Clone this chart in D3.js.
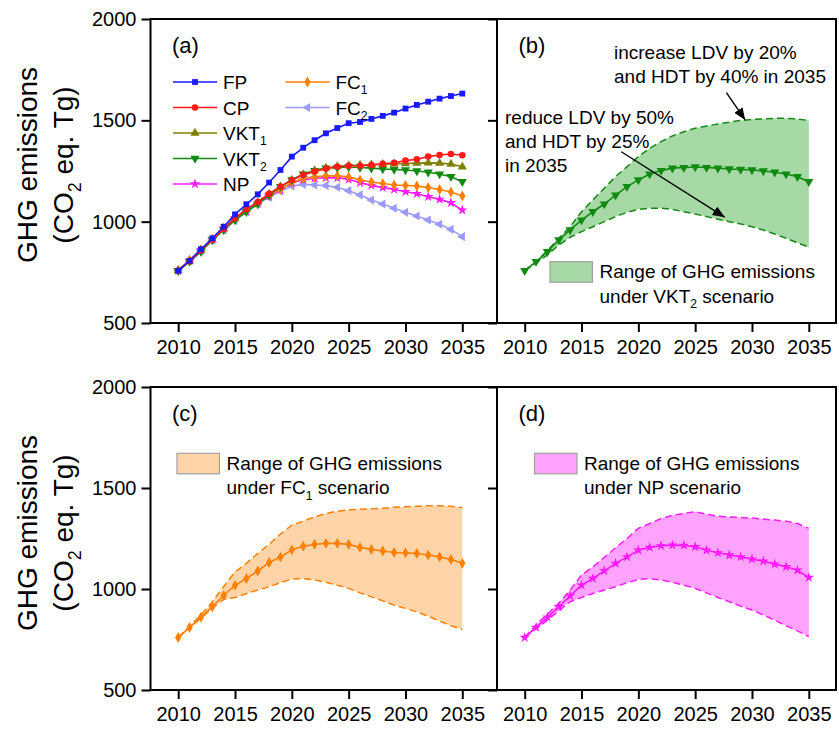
<!DOCTYPE html>
<html>
<head>
<meta charset="utf-8">
<script src="https://cdn.jsdelivr.net/npm/d3@7"></script>
<style>
  body { margin: 0; background: #fff; }
  text { font-family: "Liberation Sans", Arial, sans-serif; fill: #000; white-space: pre; }
</style>
</head>
<body>
<svg id="chart" width="839" height="729"></svg>
<script>
// ---- data -------------------------------------------------------------
const years = [2010, 2011, 2012, 2013, 2014, 2015, 2016, 2017, 2018, 2019, 2020, 2021, 2022,
               2023, 2024, 2025, 2026, 2027, 2028, 2029, 2030, 2031, 2032, 2033, 2034, 2035];
const xTickValues = [2010, 2015, 2020, 2025, 2030, 2035];
const yTickValues = [500, 1000, 1500, 2000];

// GHG emissions by scenario (CO2 eq. Tg)
const FP   = [758, 807, 864, 918, 975, 1036, 1086, 1135, 1193, 1255, 1321, 1365, 1402,
              1436, 1462, 1486, 1492, 1507, 1522, 1538, 1558, 1576, 1592, 1607, 1620, 1632];
const CP   = [758, 805, 858, 912, 964, 1017, 1061, 1097, 1137, 1173, 1206, 1231, 1247,
              1262, 1271, 1276, 1276, 1280, 1285, 1291, 1301, 1308, 1321, 1329, 1334, 1328];
const VKT1 = [758, 805, 858, 912, 964, 1017, 1061, 1097, 1137, 1173, 1206, 1233, 1252,
              1265, 1272, 1277, 1279, 1281, 1283, 1285, 1287, 1289, 1290, 1289, 1284, 1271];
const VKT2 = [758, 803, 852, 910, 959, 1008, 1049, 1087, 1131, 1173, 1206, 1235, 1252,
              1264, 1267, 1270, 1267, 1264, 1260, 1258, 1255, 1250, 1244, 1235, 1222, 1197];
const NP   = [760, 810, 861, 912, 966, 1019, 1052, 1090, 1127, 1159, 1192, 1206, 1214,
              1217, 1216, 1209, 1192, 1179, 1168, 1159, 1148, 1138, 1123, 1110, 1093, 1057];
const FC1  = [760, 810, 860, 912, 968, 1018, 1052, 1089, 1131, 1158, 1194, 1212, 1221,
              1226, 1226, 1221, 1206, 1196, 1188, 1181, 1179, 1176, 1168, 1159, 1146, 1127];
const FC2  = [758, 805, 856, 908, 958, 1006, 1050, 1090, 1120, 1150, 1176, 1184, 1181,
              1178, 1170, 1153, 1132, 1107, 1087, 1066, 1046, 1028, 1008, 987, 962, 926];

// uncertainty ranges
const VKT2_high = [758, 803, 857, 918, 975, 1049, 1107, 1165, 1222, 1271, 1321, 1362, 1395,
                   1423, 1444, 1461, 1472, 1482, 1491, 1499, 1505, 1507, 1510, 1510, 1507, 1499];
const VKT2_low  = [758, 795, 836, 885, 923, 951, 975, 1000, 1025, 1046, 1061, 1066, 1066,
                   1061, 1049, 1038, 1025, 1012, 1000, 989, 975, 959, 939, 918, 896, 874];
const FC1_high  = [760, 814, 871, 937, 1011, 1085, 1127, 1176, 1221, 1272, 1316, 1336, 1357,
                   1374, 1385, 1392, 1395, 1397, 1400, 1405, 1407, 1410, 1412, 1412, 1410, 1403];
const FC1_low   = [760, 808, 855, 904, 949, 958, 978, 995, 1011, 1031, 1049, 1051, 1045,
                   1033, 1019, 1003, 981, 961, 942, 920, 904, 887, 866, 841, 818, 800];
const NP_high   = [760, 823, 876, 929, 995, 1069, 1110, 1156, 1204, 1250, 1300, 1324, 1349,
                   1365, 1374, 1382, 1370, 1360, 1357, 1354, 1351, 1346, 1341, 1336, 1324, 1300];
const NP_low    = [760, 803, 846, 892, 937, 958, 978, 995, 1011, 1031, 1047, 1051, 1045,
                   1033, 1019, 1003, 981, 958, 937, 915, 896, 871, 846, 818, 793, 764];

// ---- styling ----------------------------------------------------------
const FONT_TICK = 20, FONT_LEG = 19, FONT_AXIS = 28;
const series = {
  FP:   { values: FP,   color: "#1a1aff", symbol: d3.symbolSquare,   size: 34, rot: 0 },
  CP:   { values: CP,   color: "#ff1a1a", symbol: d3.symbolCircle,   size: 34, rot: 0 },
  VKT1: { values: VKT1, color: "#808000", symbol: d3.symbolTriangle, size: 36, rot: 0 },
  VKT2: { values: VKT2, color: "#118a11", symbol: d3.symbolTriangle, size: 36, rot: 180 },
  NP:   { values: NP,   color: "#ff1aff", symbol: d3.symbolStar,     size: 34, rot: 0 },
  FC1:  { values: FC1,  color: "#ff8000", symbol: d3.symbolDiamond,  size: 34, rot: 0 },
  FC2:  { values: FC2,  color: "#9b9bff", symbol: d3.symbolTriangle, size: 36, rot: -90 }
};

const svg = d3.select("#chart");

const panels = {
  a: { left: 150.5, top: 19,  w: 346.5, h: 304, yLabels: true },
  b: { left: 497,   top: 19,  w: 339,   h: 304, yLabels: false },
  c: { left: 150.5, top: 387, w: 346.5, h: 303, yLabels: true },
  d: { left: 497,   top: 387, w: 339,   h: 303, yLabels: false }
};

// text with optional subscripts: parts are strings or {sub: "..."}
function richText(g, x, y, parts, size, anchor) {
  const t = g.append("text").attr("x", x).attr("y", y)
    .attr("font-size", size).attr("text-anchor", anchor || "start");
  let inSub = false;
  parts.forEach(p => {
    const isSub = typeof p !== "string";
    const ts = t.append("tspan").text(isSub ? p.sub : p);
    if (isSub) {
      ts.attr("font-size", size * 0.64);
      if (!inSub) ts.attr("dy", size * 0.28);
      inSub = true;
    } else if (inSub) {
      ts.attr("dy", -size * 0.28);
      inSub = false;
    }
  });
  return t;
}

function setupPanel(key) {
  const p = panels[key];
  const g = svg.append("g").attr("transform", `translate(${p.left},${p.top})`);
  const x = d3.scaleLinear().domain([2010, 2035]).range([27.7, 311.8]);
  const y = d3.scaleLinear().domain([500, 2000]).range([p.h, 0]);
  return { g, x, y, p };
}

function finishPanel(P) {
  const { g, x, y, p } = P;
  const yAxis = d3.axisLeft(y).tickValues(yTickValues).tickSize(9).tickPadding(5).tickSizeOuter(0)
    .tickFormat(p.yLabels ? d3.format("d") : () => "");
  const xAxis = d3.axisBottom(x).tickValues(xTickValues).tickSize(9).tickPadding(8).tickSizeOuter(0)
    .tickFormat(d3.format("d"));
  const ya = g.append("g").call(yAxis);
  const xa = g.append("g").attr("transform", `translate(0,${p.h})`).call(xAxis);
  [ya, xa].forEach(a => {
    a.select(".domain").remove();
    a.selectAll(".tick line").attr("stroke", "#000").attr("stroke-width", 2);
    a.selectAll(".tick text").attr("font-size", FONT_TICK)
      .style("font-family", '"Liberation Sans", Arial, sans-serif').attr("fill", "#000");
  });
  g.append("rect").attr("x", 0).attr("y", 0).attr("width", p.w).attr("height", p.h)
    .attr("fill", "none").attr("stroke", "#000").attr("stroke-width", 2);
}

function drawSeries(P, key) {
  const { g, x, y } = P;
  const s = series[key];
  const line = d3.line().x((d, i) => x(years[i])).y(d => y(d));
  g.append("path").datum(s.values).attr("d", line)
    .attr("fill", "none").attr("stroke", s.color).attr("stroke-width", 1.6);
  const sym = d3.symbol().type(s.symbol).size(s.size);
  g.append("g").selectAll("path").data(s.values).join("path")
    .attr("d", sym)
    .attr("transform", (d, i) => `translate(${x(years[i])},${y(d)}) rotate(${s.rot})`)
    .attr("fill", s.color);
}

function drawBand(P, high, low, color, fill) {
  const { g, x, y } = P;
  const area = d3.area().x((d, i) => x(years[i])).y0((d, i) => y(low[i])).y1(d => y(d));
  g.append("path").datum(high).attr("d", area).attr("fill", fill).attr("stroke", "none");
  const line = d3.line().x((d, i) => x(years[i])).y(d => y(d));
  [high, low].forEach(b => {
    g.append("path").datum(b).attr("d", line).attr("fill", "none")
      .attr("stroke", color).attr("stroke-width", 1.5).attr("stroke-dasharray", "7,4");
  });
}

function panelTag(P, label) {
  P.g.append("text").attr("x", 21.5).attr("y", 34).attr("font-size", 22).text(label);
}

function legendBox(P, bx, by, fill, lines) {
  const { g } = P;
  g.append("rect").attr("x", bx).attr("y", by).attr("width", 42.5).attr("height", 20.5)
    .attr("fill", fill).attr("stroke", "#a0a0a0").attr("stroke-width", 1.2);
  lines.forEach((parts, i) => richText(g, bx + 49.5, by + 16.5 + i * 24.4, parts, FONT_LEG));
}

// ---- panel (a): all scenarios -------------------------------------------
const A = setupPanel("a");
["FC2", "NP", "FC1", "VKT2", "VKT1", "CP", "FP"].forEach(k => drawSeries(A, k));
panelTag(A, "(a)");
const legendItems = [
  { key: "FP",   col: 0, row: 0, parts: ["FP"] },
  { key: "CP",   col: 0, row: 1, parts: ["CP"] },
  { key: "VKT1", col: 0, row: 2, parts: ["VKT", { sub: "1" }] },
  { key: "VKT2", col: 0, row: 3, parts: ["VKT", { sub: "2" }] },
  { key: "NP",   col: 0, row: 4, parts: ["NP"] },
  { key: "FC1",  col: 1, row: 0, parts: ["FC", { sub: "1" }] },
  { key: "FC2",  col: 1, row: 1, parts: ["FC", { sub: "2" }] }
];
legendItems.forEach(it => {
  const s = series[it.key];
  const x0 = it.col === 0 ? 22.5 : 135;
  const yy = 63 + it.row * 25.5;
  A.g.append("line").attr("x1", x0).attr("x2", x0 + 44).attr("y1", yy).attr("y2", yy)
    .attr("stroke", s.color).attr("stroke-width", 1.6);
  A.g.append("path").attr("d", d3.symbol().type(s.symbol).size(s.size)())
    .attr("transform", `translate(${x0 + 22},${yy}) rotate(${s.rot})`).attr("fill", s.color);
  richText(A.g, x0 + 50, yy + 7, it.parts, FONT_LEG);
});
finishPanel(A);

// ---- panel (b): VKT2 range ---------------------------------------------
const B = setupPanel("b");
drawBand(B, VKT2_high, VKT2_low, "#118a11", "#a6d9a6");
drawSeries(B, "VKT2");
panelTag(B, "(b)");
richText(B.g, 117, 40, ["increase LDV by 20%"], FONT_LEG);
richText(B.g, 117, 64.4, ["and HDT by 40% in 2035"], FONT_LEG);
richText(B.g, 8, 104.5, ["reduce LDV by 50%"], FONT_LEG);
richText(B.g, 8, 128.9, ["and HDT by 25%"], FONT_LEG);
richText(B.g, 8, 153.3, ["in 2035"], FONT_LEG);
svg.append("defs").append("marker").attr("id", "arrowHead")
  .attr("viewBox", "0 0 12 10").attr("refX", 12).attr("refY", 5)
  .attr("markerWidth", 12).attr("markerHeight", 10).attr("markerUnits", "userSpaceOnUse")
  .attr("orient", "auto")
  .append("path").attr("d", "M0,0 L12,5 L0,10 Z").attr("fill", "#000");
const arrows = [
  { from: [2027.75, 1637], to: [2029.4, 1502] },
  { from: [2018.5, 1345], to: [2027.6, 1022] }
];
arrows.forEach(a => {
  B.g.append("line")
    .attr("x1", B.x(a.from[0])).attr("y1", B.y(a.from[1]))
    .attr("x2", B.x(a.to[0])).attr("y2", B.y(a.to[1]))
    .attr("stroke", "#000").attr("stroke-width", 1.4).attr("marker-end", "url(#arrowHead)");
});
legendBox(B, 53, 242.7, "#a6d9a6", [["Range of GHG emissions"], ["under VKT", { sub: "2" }, " scenario"]]);
finishPanel(B);

// ---- panel (c): FC1 range ----------------------------------------------
const C = setupPanel("c");
drawBand(C, FC1_high, FC1_low, "#ff8000", "#fed4a8");
drawSeries(C, "FC1");
panelTag(C, "(c)");
legendBox(C, 26.5, 66.3, "#fed4a8", [["Range of GHG emissions"], ["under FC", { sub: "1" }, " scenario"]]);
finishPanel(C);

// ---- panel (d): NP range -----------------------------------------------
const D = setupPanel("d");
drawBand(D, NP_high, NP_low, "#ff1aff", "#ffa3ff");
drawSeries(D, "NP");
panelTag(D, "(d)");
legendBox(D, 37.5, 66.3, "#ffa3ff", [["Range of GHG emissions"], ["under NP scenario"]]);
finishPanel(D);

// ---- shared y-axis titles ----------------------------------------------
[165, 533].forEach(cy => {
  const g = svg.append("g").attr("transform", `translate(0,${cy}) rotate(-90)`);
  richText(g, 0, 37, ["GHG emissions"], FONT_AXIS, "middle");
  richText(g, 0, 73, ["(CO", { sub: "2" }, " eq. Tg)"], FONT_AXIS, "middle");
});
</script>
</body>
</html>
